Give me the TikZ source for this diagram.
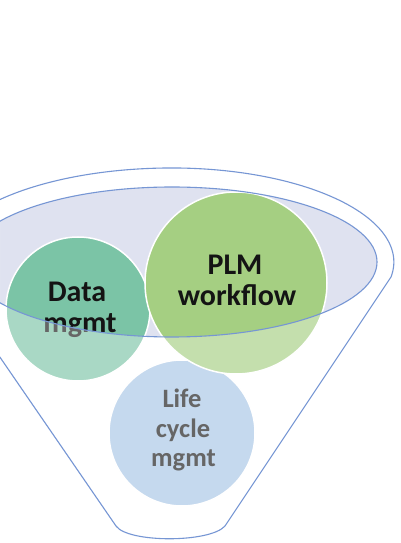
\documentclass[tikz,border=0pt]{standalone}
\usepackage{fontspec}
\setmainfont{Carlito}
\definecolor{funblue}{RGB}{118,150,212}
\definecolor{lav}{RGB}{223,226,240}
\definecolor{datac}{RGB}{123,196,166}
\definecolor{plmc}{RGB}{165,207,130}
\definecolor{lifec}{RGB}{166,197,229}
\definecolor{txt}{RGB}{20,20,20}
\begin{document}
\begin{tikzpicture}[x=1pt,y=1pt,
  outl/.style={draw=funblue, line width=1.1pt, line join=round},
  bubble/.style={circle, draw=white, line width=1.5pt, minimum size=#1, inner sep=0pt},
  lbl/.style={anchor=base, font=\bfseries\fontsize{30}{31}\selectfont, text=txt},
  lbls/.style={anchor=base, font=\bfseries\fontsize{26.5}{29}\selectfont, text=txt}]
\useasboundingbox (0,0) rectangle (400,543);
\fill[white] (0,0) rectangle (400,543);
% funnel mouth fill
\fill[lav] (172,281) ellipse[x radius=205, y radius=75];
% bubbles
\node[bubble=146pt, fill=lifec] (life) at (182,110) {};
\node[bubble=144pt, fill=datac] (data) at (78,234) {};
\node[bubble=182pt, fill=plmc] (plm) at (236,260) {};
% labels
\node[lbl] (data1) at (77,241) {Data};
\node[lbl] (data2) at (80,210) {mgmt};
\node[lbl] (plm1) at (235,268) {PLM};
\node[lbl] (plm2) at (237,237) {workflow};
\node[lbls] (life1) at (182,135) {Life};
\node[lbls] (life2) at (183,105) {cycle};
\node[lbls] (life3) at (183.5,76) {mgmt};
% translucent funnel body outside the mouth
\fill[white, fill opacity=0.35, even odd rule] (0,0) rectangle (400,543)
  (172,281) ellipse[x radius=205, y radius=75];
% outlines
\draw[outl] (172,281) ellipse[x radius=205, y radius=75];
\draw[outl] (391,266) arc[start angle=-9.2, end angle=90, x radius=222, y radius=94]
  arc[start angle=90, end angle=189.2, x radius=230, y radius=94]
  -- (116,17) .. controls (128,0) and (210,0) .. (225,17) -- cycle;
\end{tikzpicture}
\end{document}
